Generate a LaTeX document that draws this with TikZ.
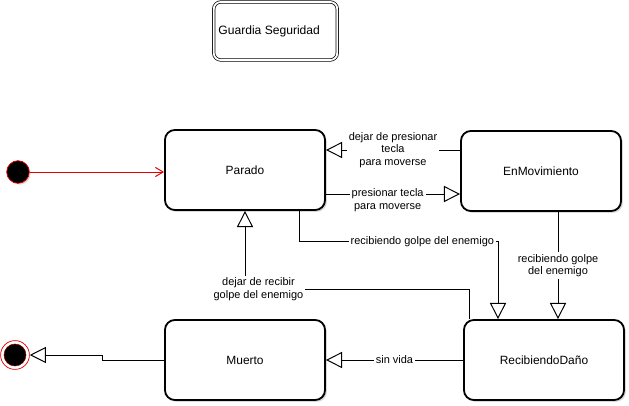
\documentclass[tikz,border=0pt]{standalone}
\usepackage{fontspec}
\setmainfont{Liberation Sans}
\usetikzlibrary{arrows.meta, positioning, calc, shadows}
\usepackage{xcolor}
\definecolor{gsred}{HTML}{E00000}
\definecolor{gsgray}{HTML}{6B6B6B}

\begin{document}
\begin{tikzpicture}[
    x=0.025cm, y=-0.025cm,
    state/.style={
        rectangle,
        rounded corners=7pt,
        minimum width=4cm,
        minimum height=2cm,
        draw=black,
        line width=1.3pt,
        fill=white,
        font=\fontsize{8.5}{10}\selectfont,
        drop shadow={shadow xshift=1.3pt, shadow yshift=-1.3pt, opacity=0.3}
    },
    machine/.style={
        rectangle,
        rounded corners=5pt,
        minimum width=2.95cm,
        minimum height=1.45cm,
        draw=black,
        double,
        double distance=1.3pt,
        line width=0.5pt,
        font=\fontsize{8.6}{10}\selectfont
    },
    trans/.style={
        -{Triangle[open, length=11.5pt, width=11.5pt]},
        line width=0.7pt
    },
    init/.style={
        -{Straight Barb[length=5.5pt, width=6.5pt]},
        line width=0.7pt,
        gsred
    },
    lbl/.style={
        fill=white,
        inner sep=1.5pt,
        align=center,
        font=\fontsize{7.8}{8.9}\selectfont
    }
]
\useasboundingbox (0,0) rectangle (629,406);

% Title
\node[machine] (title) at (275.5,31) {Guardia Seguridad\hspace*{9pt}};

% States
\node[state] (parado) at (245,170) {Parado};
\node[state] (enmov) at (541,171) {EnMovimiento};
\node[state] (muerto) at (245,360) {Muerto};
\node[state] (recib) at (544,360) {RecibiendoDaño};

% Initial and final states
\node[circle, fill=black, draw=gsred, line width=0.5pt, minimum size=0.565cm, inner sep=0pt,
      drop shadow={shadow xshift=1pt, shadow yshift=-1pt, opacity=0.3}] (start) at (18,172) {};
\node[circle, fill=white, draw=gsred, line width=0.5pt, minimum size=0.72cm, inner sep=0pt] (final) at (15,355) {};
\filldraw[black, draw=gsred!60!black, line width=0.4pt] (final) circle [radius=11];

% Start
\draw[init] (start) -- (start -| parado.west);

% Parado <-> EnMovimiento
\coordinate (m1) at ($(enmov.west)+(0,-21)$);
\draw[trans] (m1) -- (m1 -| parado.east)
    node[lbl, midway] {dejar de presionar\\tecla\\para moverse};
\coordinate (m2) at ($(parado.east)+(0,24)$);
\draw[trans] (m2) -- (m2 -| enmov.west)
    node[lbl, pos=0.46, yshift=-0.15cm] {presionar tecla\\para moverse};

% Golpe del enemigo
\coordinate (p1) at ($(parado.south)+(54,0)$);
\coordinate (r1) at ($(recib.north)+(-46,0)$);
\draw[trans] (p1) -- ++(0,31) -| (r1)
    node[lbl, pos=0.31] {recibiendo golpe del enemigo};
\coordinate (e1) at ($(enmov.south)+(17,0)$);
\draw[trans] (e1) -- (e1 |- recib.north)
    node[lbl, midway] {recibiendo golpe\\del enemigo};

% Back to Parado
\coordinate (r2) at ($(recib.north)+(-75,0)$);
\draw[trans] (r2) -- ++(0,-30) -| (parado.south)
    node[lbl, pos=0.47] {dejar de recibir\\golpe del enemigo};

% Sin vida
\draw[trans] (recib.west) -- (muerto.east) node[lbl, midway] {sin vida};

% End
\draw[trans] (muerto.west) -- ++(-62,0) |- (final);

\end{tikzpicture}
\end{document}
